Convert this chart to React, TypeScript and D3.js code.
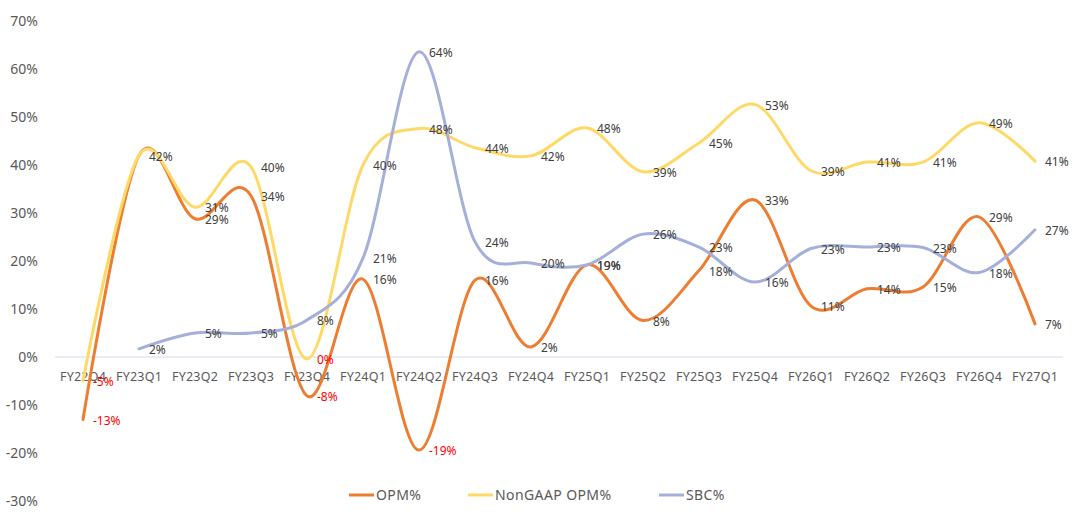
import { useEffect, useRef } from "react"
import * as d3 from "d3"

const categories = [
  "FY22Q4", "FY23Q1", "FY23Q2", "FY23Q3", "FY23Q4", "FY24Q1", "FY24Q2", "FY24Q3", "FY24Q4",
  "FY25Q1", "FY25Q2", "FY25Q3", "FY25Q4", "FY26Q1", "FY26Q2", "FY26Q3", "FY26Q4", "FY27Q1",
]

const opm = [-13, 42, 28.8, 33.6, -8.1, 16.2, -19.4, 16, 2.1, 19.2, 7.6, 18, 32.7, 10.6, 14.2, 14.6, 29.2, 6.9]
const nonGaapOpm = [-5, 42, 31.2, 39.6, -0.4, 40, 47.6, 43.6, 41.9, 47.7, 38.6, 44.6, 52.6, 38.8, 40.6, 40.6, 48.8, 40.8]
const sbc = [null, 1.7, 5, 5, 7.7, 20.6, 63.6, 24, 19.6, 19.2, 25.6, 22.9, 15.6, 22.6, 22.9, 22.8, 17.6, 26.5]

const yTicks = [-30, -20, -10, 0, 10, 20, 30, 40, 50, 60, 70]

const seriesList = [
  { name: "OPM%", values: opm, color: "#ED7D31" },
  { name: "NonGAAP OPM%", values: nonGaapOpm, color: "#FFD966" },
  { name: "SBC%", values: sbc, color: "#A5B0DA" },
]

const FONT = "'Noto Sans', 'DejaVu Sans', sans-serif"

export default function App() {
  const svgRef = useRef<SVGSVGElement>(null)

  useEffect(() => {
    if (!svgRef.current) return
    const svg = d3.select(svgRef.current)
    svg.selectAll("*").remove()

    const x = d3.scaleBand().domain(categories).range([55, 1063])
    const cx = (c: string) => (x(c) || 0) + x.bandwidth() / 2
    const y = d3.scaleLinear().domain([-30, 70]).range([501, 21])

    // y tick labels
    svg
      .append("g")
      .selectAll("text")
      .data(yTicks)
      .enter()
      .append("text")
      .attr("x", 38)
      .attr("y", (d) => y(d))
      .attr("dy", "0.35em")
      .attr("text-anchor", "end")
      .style("font-family", FONT)
      .style("font-size", "14px")
      .style("fill", "#595959")
      .text((d) => `${d}%`)

    // zero line
    svg
      .append("line")
      .attr("x1", 55)
      .attr("x2", 1063)
      .attr("y1", y(0))
      .attr("y2", y(0))
      .attr("stroke", "#D4D7EE")
      .attr("stroke-width", 1)

    // category labels
    svg
      .append("g")
      .selectAll("text")
      .data(categories)
      .enter()
      .append("text")
      .attr("x", (d) => cx(d))
      .attr("y", 377)
      .attr("dy", "0.35em")
      .attr("text-anchor", "middle")
      .style("font-family", FONT)
      .style("font-size", "12.5px")
      .style("letter-spacing", "0.2px")
      .style("fill", "#595959")
      .text((d) => d)

    // lines
    seriesList.forEach((s) => {
      const line = d3
        .line<number | null>()
        .defined((d) => d != null)
        .x((_, i) => cx(categories[i]))
        .y((d) => y(d as number))
        .curve(d3.curveCardinal.tension(0))

      svg
        .append("path")
        .datum(s.values)
        .attr("d", line)
        .attr("fill", "none")
        .attr("stroke", s.color)
        .attr("stroke-width", 3)
        .attr("stroke-linecap", "round")
    })

    // data labels
    seriesList.forEach((s, si) => {
      svg
        .append("g")
        .selectAll("text")
        .data(
          s.values
            .map((v, i) => ({ v, c: categories[i] }))
            // OPM and NonGAAP both read 42% at FY23Q1, only one label shows
            .filter((d) => d.v != null && !(si === 1 && d.c === "FY23Q1"))
        )
        .enter()
        .append("text")
        .attr("x", (d) => cx(d.c) + 10)
        .attr("y", (d) => y(d.v as number) + 1)
        .attr("dy", "0.35em")
        .style("font-family", FONT)
        .style("font-size", "12px")
        .style("fill", (d) => ((d.v as number) < 0 ? "#FF0000" : "#404040"))
        .text((d) => `${Math.abs(Math.round(d.v as number)) === 0 ? 0 : Math.round(d.v as number)}%`)
    })

    // legend
    const legendX = [349, 468, 659]
    const legend = svg
      .append("g")
      .selectAll("g")
      .data(seriesList)
      .enter()
      .append("g")
      .attr("transform", (_, i) => `translate(${legendX[i]},495)`)

    legend
      .append("line")
      .attr("x1", 0)
      .attr("x2", 25)
      .attr("stroke", (d) => d.color)
      .attr("stroke-width", 3)

    legend
      .append("text")
      .attr("x", 27)
      .attr("dy", "0.35em")
      .style("font-family", FONT)
      .style("font-size", "14px")
      .style("letter-spacing", "0.4px")
      .style("fill", "#595959")
      .text((d) => d.name)
  }, [])

  return (
    <svg
      ref={svgRef}
      width={1080}
      height={519}
      style={{ position: "absolute", left: 0, top: 0, background: "#fff" }}
    />
  )
}
